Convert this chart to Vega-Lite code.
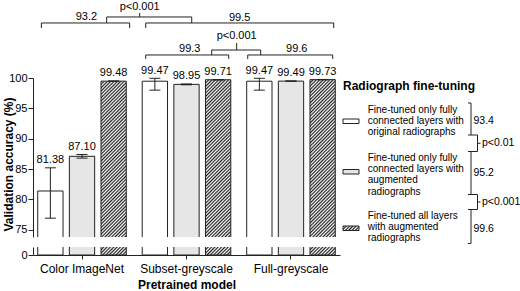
{
  "$schema": "https://vega.github.io/schema/vega-lite/v6.json",
  "background": "white",
  "padding": {"left": 2, "top": 0, "right": 0, "bottom": 0},
  "config": {
    "font": "Liberation Sans",
    "view": {"stroke": null},
    "axis": {"labelFont": "Liberation Sans", "titleFont": "Liberation Sans", "labelColor": "#000", "titleColor": "#000", "domainColor": "#222", "tickColor": "#222", "grid": false, "labelFontSize": 11, "titleFontSize": 12, "titleFontWeight": "bold", "labelOverlap": false},
    "text": {"font": "Liberation Sans", "color": "#000"}
  },
  "datasets": {
    "bars": [
      {"g": "Color ImageNet", "t": "orig", "v": 81.38, "lo": 76.9, "hi": 85.2},
      {"g": "Color ImageNet", "t": "aug", "v": 87.10, "lo": 86.8, "hi": 87.4},
      {"g": "Color ImageNet", "t": "all", "v": 99.48, "lo": 99.45, "hi": 99.52},
      {"g": "Subset-greyscale", "t": "orig", "v": 99.47, "lo": 98.0, "hi": 99.95},
      {"g": "Subset-greyscale", "t": "aug", "v": 98.95, "lo": 98.88, "hi": 99.02},
      {"g": "Subset-greyscale", "t": "all", "v": 99.71, "lo": 99.68, "hi": 99.74},
      {"g": "Full-greyscale", "t": "orig", "v": 99.47, "lo": 98.0, "hi": 99.95},
      {"g": "Full-greyscale", "t": "aug", "v": 99.49, "lo": 99.46, "hi": 99.52},
      {"g": "Full-greyscale", "t": "all", "v": 99.73, "lo": 99.70, "hi": 99.76}
    ],
    "brk": [
      {"x": -0.389, "x2": 0.456, "y": 109.08, "y2": 109.08},
      {"x": -0.389, "x2": -0.389, "y": 109.08, "y2": 108.25},
      {"x": 0.456, "x2": 0.456, "y": 109.08, "y2": 108.25},
      {"x": 0.610, "x2": 2.409, "y": 109.08, "y2": 109.08},
      {"x": 0.610, "x2": 0.610, "y": 109.08, "y2": 108.25},
      {"x": 2.409, "x2": 2.409, "y": 109.08, "y2": 108.25},
      {"x": 0.236, "x2": 1.050, "y": 110.07, "y2": 110.07},
      {"x": 0.236, "x2": 0.236, "y": 110.07, "y2": 109.08},
      {"x": 1.050, "x2": 1.050, "y": 110.07, "y2": 109.08},
      {"x": 0.552, "x2": 0.552, "y": 110.07, "y2": 110.73},
      {"x": 0.610, "x2": 1.404, "y": 103.80, "y2": 103.80},
      {"x": 0.610, "x2": 0.610, "y": 103.80, "y2": 103.14},
      {"x": 1.404, "x2": 1.404, "y": 103.80, "y2": 103.14},
      {"x": 1.586, "x2": 2.399, "y": 103.80, "y2": 103.80},
      {"x": 1.586, "x2": 1.586, "y": 103.80, "y2": 103.14},
      {"x": 2.399, "x2": 2.399, "y": 103.80, "y2": 103.14},
      {"x": 1.241, "x2": 1.710, "y": 104.62, "y2": 104.62},
      {"x": 1.241, "x2": 1.241, "y": 104.62, "y2": 103.80},
      {"x": 1.710, "x2": 1.710, "y": 104.62, "y2": 103.80},
      {"x": 1.480, "x2": 1.480, "y": 104.62, "y2": 105.78}
    ],
    "brkText": [
      {"x": 0.552, "y": 111.72, "s": "p<0.001"},
      {"x": 0.042, "y": 110.07, "s": "93.2"},
      {"x": 1.509, "y": 109.95, "s": "99.5"},
      {"x": 1.480, "y": 106.93, "s": "p<0.001"},
      {"x": 1.031, "y": 104.79, "s": "99.3"},
      {"x": 2.055, "y": 104.79, "s": "99.6"}
    ],
    "legRule": [
      {"x": 125, "x2": 128, "y": 101, "y2": 101},
      {"x": 128, "x2": 128, "y": 101, "y2": 133},
      {"x": 125, "x2": 134.5, "y": 133, "y2": 133},
      {"x": 134.5, "x2": 134.5, "y": 133, "y2": 149.5},
      {"x": 125, "x2": 134.5, "y": 149.5, "y2": 149.5},
      {"x": 134.5, "x2": 137.5, "y": 141.3, "y2": 141.3},
      {"x": 128, "x2": 128, "y": 149.5, "y2": 192.5},
      {"x": 125, "x2": 134.5, "y": 192.5, "y2": 192.5},
      {"x": 134.5, "x2": 134.5, "y": 192.5, "y2": 207.5},
      {"x": 125, "x2": 134.5, "y": 207.5, "y2": 207.5},
      {"x": 134.5, "x2": 137.5, "y": 200, "y2": 200},
      {"x": 128, "x2": 128, "y": 207.5, "y2": 241.5},
      {"x": 125, "x2": 128, "y": 241.5, "y2": 241.5}
    ],
    "legSw": [
      {"t": "orig", "x": 0, "x2": 16, "y": 117, "y2": 121.5},
      {"t": "aug", "x": 0, "x2": 16, "y": 167.5, "y2": 172},
      {"t": "all", "x": 0, "x2": 16, "y": 224, "y2": 228.5}
    ],
    "legTitle": [
      {"x": 0, "y": 84, "s": "Radiograph fine-tuning"}
    ],
    "legLab": [
      {"x": 24.7, "y": 107.7, "s": "Fine-tuned only fully"},
      {"x": 24.7, "y": 119.0, "s": "connected layers with"},
      {"x": 24.7, "y": 130.3, "s": "original radiographs"},
      {"x": 24.7, "y": 156.0, "s": "Fine-tuned only fully"},
      {"x": 24.7, "y": 167.2, "s": "connected layers with"},
      {"x": 24.7, "y": 178.4, "s": "augmented"},
      {"x": 24.7, "y": 189.6, "s": "radiographs"},
      {"x": 24.7, "y": 213.5, "s": "Fine-tuned all layers"},
      {"x": 24.7, "y": 224.8, "s": "with augmented"},
      {"x": 24.7, "y": 236.1, "s": "radiographs"}
    ],
    "legNum": [
      {"x": 130.5, "y": 119, "s": "93.4"},
      {"x": 130.5, "y": 171, "s": "95.2"},
      {"x": 130.5, "y": 226.5, "s": "99.6"},
      {"x": 139, "y": 141.3, "s": "p<0.01"},
      {"x": 139, "y": 200, "s": "p<0.001"}
    ]
  },
  "spacing": 2,
  "hconcat": [
    {
      "spacing": 10,
      "bounds": "flush",
      "vconcat": [
        {
          "width": 307,
          "height": 66,
          "layer": [
            {
              "data": {"name": "brk"},
              "mark": {"type": "rule", "stroke": "#222", "strokeWidth": 1},
              "encoding": {
                "x": {"field": "x", "type": "quantitative", "scale": {"domain": [-0.469, 2.469], "nice": false, "zero": false}, "axis": null},
                "x2": {"field": "x2"},
                "y": {"field": "y", "type": "quantitative", "scale": {"domain": [101.65, 112.54], "nice": false, "zero": false}, "axis": null},
                "y2": {"field": "y2"}
              }
            },
            {
              "data": {"name": "brkText"},
              "mark": {"type": "text", "fontSize": 11, "baseline": "middle", "align": "center"},
              "encoding": {
                "x": {"field": "x", "type": "quantitative", "scale": {"domain": [-0.469, 2.469], "nice": false, "zero": false}, "axis": null},
                "y": {"field": "y", "type": "quantitative", "scale": {"domain": [101.65, 112.54], "nice": false, "zero": false}, "axis": null},
                "text": {"field": "s"}
              }
            }
          ]
        },
        {
          "width": 307,
          "height": 159,
          "data": {"name": "bars"},
          "encoding": {
            "x": {"field": "g", "type": "nominal", "sort": ["Color ImageNet", "Subset-greyscale", "Full-greyscale"], "scale": {"paddingInner": 0.11, "paddingOuter": 0.024}, "axis": null},
            "xOffset": {"field": "t", "sort": ["orig", "aug", "all"], "scale": {"paddingInner": 0.2, "paddingOuter": 0.07}}
          },
          "layer": [
            {
              "mark": {"type": "bar", "clip": true, "stroke": "#222", "strokeWidth": 1},
              "encoding": {
                "y": {"field": "v", "type": "quantitative", "scale": {"domain": [73.8, 100], "nice": false, "zero": false},
                  "axis": {"title": "Validation accuracy (%)", "values": [75, 80, 85, 90, 95, 100], "tickCount": 20, "tickSize": 5, "labelPadding": 1, "labelOverlap": false, "titleX": -25, "titleY": 86, "titleBaseline": "middle", "titleAlign": "center", "titleAngle": -90}},
                "y2": {"datum": 0},
                "fill": {
                  "field": "t", "type": "nominal",
                  "scale": {"domain": ["orig", "aug", "all"], "range": ["#ffffff", "#e6e6e6", "#8c8c8c"]},
                  "legend": null,
                  "condition": {
                    "test": "datum.t === 'all'",
                    "value": {
                      "gradient": "linear", "x1": 0, "y1": 0, "x2": 0.013823, "y2": 0.33027,
                      "stops": [
                        {"offset": 0, "color": "#222"}, {"offset": 0.0083, "color": "#fff"}, {"offset": 0.0167, "color": "#222"}, {"offset": 0.025, "color": "#fff"}, {"offset": 0.0333, "color": "#222"}, {"offset": 0.0417, "color": "#fff"}, {"offset": 0.05, "color": "#222"}, {"offset": 0.0583, "color": "#fff"}, {"offset": 0.0667, "color": "#222"}, {"offset": 0.075, "color": "#fff"}, {"offset": 0.0833, "color": "#222"}, {"offset": 0.0917, "color": "#fff"},
                        {"offset": 0.1, "color": "#222"}, {"offset": 0.1083, "color": "#fff"}, {"offset": 0.1167, "color": "#222"}, {"offset": 0.125, "color": "#fff"}, {"offset": 0.1333, "color": "#222"}, {"offset": 0.1417, "color": "#fff"}, {"offset": 0.15, "color": "#222"}, {"offset": 0.1583, "color": "#fff"}, {"offset": 0.1667, "color": "#222"}, {"offset": 0.175, "color": "#fff"}, {"offset": 0.1833, "color": "#222"}, {"offset": 0.1917, "color": "#fff"},
                        {"offset": 0.2, "color": "#222"}, {"offset": 0.2083, "color": "#fff"}, {"offset": 0.2167, "color": "#222"}, {"offset": 0.225, "color": "#fff"}, {"offset": 0.2333, "color": "#222"}, {"offset": 0.2417, "color": "#fff"}, {"offset": 0.25, "color": "#222"}, {"offset": 0.2583, "color": "#fff"}, {"offset": 0.2667, "color": "#222"}, {"offset": 0.275, "color": "#fff"}, {"offset": 0.2833, "color": "#222"}, {"offset": 0.2917, "color": "#fff"},
                        {"offset": 0.3, "color": "#222"}, {"offset": 0.3083, "color": "#fff"}, {"offset": 0.3167, "color": "#222"}, {"offset": 0.325, "color": "#fff"}, {"offset": 0.3333, "color": "#222"}, {"offset": 0.3417, "color": "#fff"}, {"offset": 0.35, "color": "#222"}, {"offset": 0.3583, "color": "#fff"}, {"offset": 0.3667, "color": "#222"}, {"offset": 0.375, "color": "#fff"}, {"offset": 0.3833, "color": "#222"}, {"offset": 0.3917, "color": "#fff"},
                        {"offset": 0.4, "color": "#222"}, {"offset": 0.4083, "color": "#fff"}, {"offset": 0.4167, "color": "#222"}, {"offset": 0.425, "color": "#fff"}, {"offset": 0.4333, "color": "#222"}, {"offset": 0.4417, "color": "#fff"}, {"offset": 0.45, "color": "#222"}, {"offset": 0.4583, "color": "#fff"}, {"offset": 0.4667, "color": "#222"}, {"offset": 0.475, "color": "#fff"}, {"offset": 0.4833, "color": "#222"}, {"offset": 0.4917, "color": "#fff"},
                        {"offset": 0.5, "color": "#222"}, {"offset": 0.5083, "color": "#fff"}, {"offset": 0.5167, "color": "#222"}, {"offset": 0.525, "color": "#fff"}, {"offset": 0.5333, "color": "#222"}, {"offset": 0.5417, "color": "#fff"}, {"offset": 0.55, "color": "#222"}, {"offset": 0.5583, "color": "#fff"}, {"offset": 0.5667, "color": "#222"}, {"offset": 0.575, "color": "#fff"}, {"offset": 0.5833, "color": "#222"}, {"offset": 0.5917, "color": "#fff"},
                        {"offset": 0.6, "color": "#222"}, {"offset": 0.6083, "color": "#fff"}, {"offset": 0.6167, "color": "#222"}, {"offset": 0.625, "color": "#fff"}, {"offset": 0.6333, "color": "#222"}, {"offset": 0.6417, "color": "#fff"}, {"offset": 0.65, "color": "#222"}, {"offset": 0.6583, "color": "#fff"}, {"offset": 0.6667, "color": "#222"}, {"offset": 0.675, "color": "#fff"}, {"offset": 0.6833, "color": "#222"}, {"offset": 0.6917, "color": "#fff"},
                        {"offset": 0.7, "color": "#222"}, {"offset": 0.7083, "color": "#fff"}, {"offset": 0.7167, "color": "#222"}, {"offset": 0.725, "color": "#fff"}, {"offset": 0.7333, "color": "#222"}, {"offset": 0.7417, "color": "#fff"}, {"offset": 0.75, "color": "#222"}, {"offset": 0.7583, "color": "#fff"}, {"offset": 0.7667, "color": "#222"}, {"offset": 0.775, "color": "#fff"}, {"offset": 0.7833, "color": "#222"}, {"offset": 0.7917, "color": "#fff"},
                        {"offset": 0.8, "color": "#222"}, {"offset": 0.8083, "color": "#fff"}, {"offset": 0.8167, "color": "#222"}, {"offset": 0.825, "color": "#fff"}, {"offset": 0.8333, "color": "#222"}, {"offset": 0.8417, "color": "#fff"}, {"offset": 0.85, "color": "#222"}, {"offset": 0.8583, "color": "#fff"}, {"offset": 0.8667, "color": "#222"}, {"offset": 0.875, "color": "#fff"}, {"offset": 0.8833, "color": "#222"}, {"offset": 0.8917, "color": "#fff"},
                        {"offset": 0.9, "color": "#222"}, {"offset": 0.9083, "color": "#fff"}, {"offset": 0.9167, "color": "#222"}, {"offset": 0.925, "color": "#fff"}, {"offset": 0.9333, "color": "#222"}, {"offset": 0.9417, "color": "#fff"}, {"offset": 0.95, "color": "#222"}, {"offset": 0.9583, "color": "#fff"}, {"offset": 0.9667, "color": "#222"}, {"offset": 0.975, "color": "#fff"}, {"offset": 0.9833, "color": "#222"}, {"offset": 0.9917, "color": "#fff"},
                        {"offset": 1, "color": "#222"}
                      ]
                    }
                  }
                }
              }
            },
            {
              "mark": {"type": "rule", "stroke": "#222", "strokeWidth": 1},
              "encoding": {
                "y": {"field": "lo", "type": "quantitative"},
                "y2": {"field": "hi"}
              }
            },
            {
              "mark": {"type": "tick", "size": 11, "thickness": 1, "color": "#222", "opacity": 1},
              "encoding": {"y": {"field": "lo", "type": "quantitative"}}
            },
            {
              "mark": {"type": "tick", "size": 11, "thickness": 1, "color": "#222", "opacity": 1},
              "encoding": {"y": {"field": "hi", "type": "quantitative"}}
            },
            {
              "mark": {"type": "text", "fontSize": 11, "dy": -4.5, "baseline": "alphabetic", "align": "center"},
              "encoding": {
                "y": {"field": "hi", "type": "quantitative"},
                "text": {"field": "v", "type": "quantitative", "format": ".2f"}
              }
            }
          ]
        },
        {
          "width": 307,
          "height": 8,
          "data": {"name": "bars"},
          "mark": {"type": "bar", "clip": true, "stroke": "#222", "strokeWidth": 1},
          "encoding": {
            "x": {"field": "g", "type": "nominal", "sort": ["Color ImageNet", "Subset-greyscale", "Full-greyscale"], "scale": {"paddingInner": 0.11, "paddingOuter": 0.024},
              "axis": {"title": "Pretrained model", "labelAngle": 0, "tickSize": 4, "labelPadding": 4, "titlePadding": 5, "labelFontSize": 12, "titleFontSize": 12}},
            "xOffset": {"field": "t", "sort": ["orig", "aug", "all"], "scale": {"paddingInner": 0.2, "paddingOuter": 0.07}},
            "y": {"field": "v", "type": "quantitative", "scale": {"domain": [0, 9], "nice": false}, "axis": {"values": [0], "tickCount": 5, "title": null, "tickSize": 5, "labelPadding": 1}},
            "y2": {"datum": 0},
            "fill": {
              "field": "t", "type": "nominal",
              "scale": {"domain": ["orig", "aug", "all"], "range": ["#ffffff", "#e6e6e6", "#8c8c8c"]},
              "legend": null,
              "condition": {
                "test": "datum.t === 'all'",
                "value": {
                  "gradient": "linear", "x1": 0, "y1": 0, "x2": 0.5973, "y2": 2.089,
                  "stops": [
                    {"offset": 0, "color": "#222"}, {"offset": 0.0083, "color": "#fff"}, {"offset": 0.0167, "color": "#222"}, {"offset": 0.025, "color": "#fff"}, {"offset": 0.0333, "color": "#222"}, {"offset": 0.0417, "color": "#fff"}, {"offset": 0.05, "color": "#222"}, {"offset": 0.0583, "color": "#fff"}, {"offset": 0.0667, "color": "#222"}, {"offset": 0.075, "color": "#fff"}, {"offset": 0.0833, "color": "#222"}, {"offset": 0.0917, "color": "#fff"},
                    {"offset": 0.1, "color": "#222"}, {"offset": 0.1083, "color": "#fff"}, {"offset": 0.1167, "color": "#222"}, {"offset": 0.125, "color": "#fff"}, {"offset": 0.1333, "color": "#222"}, {"offset": 0.1417, "color": "#fff"}, {"offset": 0.15, "color": "#222"}, {"offset": 0.1583, "color": "#fff"}, {"offset": 0.1667, "color": "#222"}, {"offset": 0.175, "color": "#fff"}, {"offset": 0.1833, "color": "#222"}, {"offset": 0.1917, "color": "#fff"},
                    {"offset": 0.2, "color": "#222"}, {"offset": 0.2083, "color": "#fff"}, {"offset": 0.2167, "color": "#222"}, {"offset": 0.225, "color": "#fff"}, {"offset": 0.2333, "color": "#222"}, {"offset": 0.2417, "color": "#fff"}, {"offset": 0.25, "color": "#222"}, {"offset": 0.2583, "color": "#fff"}, {"offset": 0.2667, "color": "#222"}, {"offset": 0.275, "color": "#fff"}, {"offset": 0.2833, "color": "#222"}, {"offset": 0.2917, "color": "#fff"},
                    {"offset": 0.3, "color": "#222"}, {"offset": 0.3083, "color": "#fff"}, {"offset": 0.3167, "color": "#222"}, {"offset": 0.325, "color": "#fff"}, {"offset": 0.3333, "color": "#222"}, {"offset": 0.3417, "color": "#fff"}, {"offset": 0.35, "color": "#222"}, {"offset": 0.3583, "color": "#fff"}, {"offset": 0.3667, "color": "#222"}, {"offset": 0.375, "color": "#fff"}, {"offset": 0.3833, "color": "#222"}, {"offset": 0.3917, "color": "#fff"},
                    {"offset": 0.4, "color": "#222"}, {"offset": 0.4083, "color": "#fff"}, {"offset": 0.4167, "color": "#222"}, {"offset": 0.425, "color": "#fff"}, {"offset": 0.4333, "color": "#222"}, {"offset": 0.4417, "color": "#fff"}, {"offset": 0.45, "color": "#222"}, {"offset": 0.4583, "color": "#fff"}, {"offset": 0.4667, "color": "#222"}, {"offset": 0.475, "color": "#fff"}, {"offset": 0.4833, "color": "#222"}, {"offset": 0.4917, "color": "#fff"},
                    {"offset": 0.5, "color": "#222"}, {"offset": 0.5083, "color": "#fff"}, {"offset": 0.5167, "color": "#222"}, {"offset": 0.525, "color": "#fff"}, {"offset": 0.5333, "color": "#222"}, {"offset": 0.5417, "color": "#fff"}, {"offset": 0.55, "color": "#222"}, {"offset": 0.5583, "color": "#fff"}, {"offset": 0.5667, "color": "#222"}, {"offset": 0.575, "color": "#fff"}, {"offset": 0.5833, "color": "#222"}, {"offset": 0.5917, "color": "#fff"},
                    {"offset": 0.6, "color": "#222"}, {"offset": 0.6083, "color": "#fff"}, {"offset": 0.6167, "color": "#222"}, {"offset": 0.625, "color": "#fff"}, {"offset": 0.6333, "color": "#222"}, {"offset": 0.6417, "color": "#fff"}, {"offset": 0.65, "color": "#222"}, {"offset": 0.6583, "color": "#fff"}, {"offset": 0.6667, "color": "#222"}, {"offset": 0.675, "color": "#fff"}, {"offset": 0.6833, "color": "#222"}, {"offset": 0.6917, "color": "#fff"},
                    {"offset": 0.7, "color": "#222"}, {"offset": 0.7083, "color": "#fff"}, {"offset": 0.7167, "color": "#222"}, {"offset": 0.725, "color": "#fff"}, {"offset": 0.7333, "color": "#222"}, {"offset": 0.7417, "color": "#fff"}, {"offset": 0.75, "color": "#222"}, {"offset": 0.7583, "color": "#fff"}, {"offset": 0.7667, "color": "#222"}, {"offset": 0.775, "color": "#fff"}, {"offset": 0.7833, "color": "#222"}, {"offset": 0.7917, "color": "#fff"},
                    {"offset": 0.8, "color": "#222"}, {"offset": 0.8083, "color": "#fff"}, {"offset": 0.8167, "color": "#222"}, {"offset": 0.825, "color": "#fff"}, {"offset": 0.8333, "color": "#222"}, {"offset": 0.8417, "color": "#fff"}, {"offset": 0.85, "color": "#222"}, {"offset": 0.8583, "color": "#fff"}, {"offset": 0.8667, "color": "#222"}, {"offset": 0.875, "color": "#fff"}, {"offset": 0.8833, "color": "#222"}, {"offset": 0.8917, "color": "#fff"},
                    {"offset": 0.9, "color": "#222"}, {"offset": 0.9083, "color": "#fff"}, {"offset": 0.9167, "color": "#222"}, {"offset": 0.925, "color": "#fff"}, {"offset": 0.9333, "color": "#222"}, {"offset": 0.9417, "color": "#fff"}, {"offset": 0.95, "color": "#222"}, {"offset": 0.9583, "color": "#fff"}, {"offset": 0.9667, "color": "#222"}, {"offset": 0.975, "color": "#fff"}, {"offset": 0.9833, "color": "#222"}, {"offset": 0.9917, "color": "#fff"},
                    {"offset": 1, "color": "#222"}
                  ]
                }
              }
            }
          }
        }
      ]
    },
    {
      "width": 178,
      "height": 253,
      "layer": [
        {
          "data": {"name": "legRule"},
          "mark": {"type": "rule", "stroke": "#222", "strokeWidth": 1},
          "encoding": {
            "x": {"field": "x", "type": "quantitative", "scale": {"domain": [0, 178], "nice": false}, "axis": null},
            "x2": {"field": "x2"},
            "y": {"field": "y", "type": "quantitative", "scale": {"domain": [0, 253], "nice": false, "reverse": true}, "axis": null},
            "y2": {"field": "y2"}
          }
        },
        {
          "data": {"name": "legSw"},
          "mark": {"type": "rect", "stroke": "#222", "strokeWidth": 1},
          "encoding": {
            "x": {"field": "x", "type": "quantitative", "scale": {"domain": [0, 178], "nice": false}, "axis": null},
            "x2": {"field": "x2"},
            "y": {"field": "y", "type": "quantitative", "scale": {"domain": [0, 253], "nice": false, "reverse": true}, "axis": null},
            "y2": {"field": "y2"},
            "fill": {
              "field": "t", "type": "nominal",
              "scale": {"domain": ["orig", "aug", "all"], "range": ["#ffffff", "#e6e6e6", "#8c8c8c"]},
              "legend": null,
              "condition": {
                "test": "datum.t === 'all'",
                "value": {
                  "gradient": "linear", "x1": 0, "y1": 0, "x2": 11.58, "y2": 3.257,
                  "stops": [
                    {"offset": 0, "color": "#222"}, {"offset": 0.0083, "color": "#fff"}, {"offset": 0.0167, "color": "#222"}, {"offset": 0.025, "color": "#fff"}, {"offset": 0.0333, "color": "#222"}, {"offset": 0.0417, "color": "#fff"}, {"offset": 0.05, "color": "#222"}, {"offset": 0.0583, "color": "#fff"}, {"offset": 0.0667, "color": "#222"}, {"offset": 0.075, "color": "#fff"}, {"offset": 0.0833, "color": "#222"}, {"offset": 0.0917, "color": "#fff"},
                    {"offset": 0.1, "color": "#222"}, {"offset": 0.1083, "color": "#fff"}, {"offset": 0.1167, "color": "#222"}, {"offset": 0.125, "color": "#fff"}, {"offset": 0.1333, "color": "#222"}, {"offset": 0.1417, "color": "#fff"}, {"offset": 0.15, "color": "#222"}, {"offset": 0.1583, "color": "#fff"}, {"offset": 0.1667, "color": "#222"}, {"offset": 0.175, "color": "#fff"}, {"offset": 0.1833, "color": "#222"}, {"offset": 0.1917, "color": "#fff"},
                    {"offset": 0.2, "color": "#222"}, {"offset": 0.2083, "color": "#fff"}, {"offset": 0.2167, "color": "#222"}, {"offset": 0.225, "color": "#fff"}, {"offset": 0.2333, "color": "#222"}, {"offset": 0.2417, "color": "#fff"}, {"offset": 0.25, "color": "#222"}, {"offset": 0.2583, "color": "#fff"}, {"offset": 0.2667, "color": "#222"}, {"offset": 0.275, "color": "#fff"}, {"offset": 0.2833, "color": "#222"}, {"offset": 0.2917, "color": "#fff"},
                    {"offset": 0.3, "color": "#222"}, {"offset": 0.3083, "color": "#fff"}, {"offset": 0.3167, "color": "#222"}, {"offset": 0.325, "color": "#fff"}, {"offset": 0.3333, "color": "#222"}, {"offset": 0.3417, "color": "#fff"}, {"offset": 0.35, "color": "#222"}, {"offset": 0.3583, "color": "#fff"}, {"offset": 0.3667, "color": "#222"}, {"offset": 0.375, "color": "#fff"}, {"offset": 0.3833, "color": "#222"}, {"offset": 0.3917, "color": "#fff"},
                    {"offset": 0.4, "color": "#222"}
                  ]
                }
              }
            }
          }
        },
        {
          "data": {"name": "legTitle"},
          "mark": {"type": "text", "fontSize": 12, "fontWeight": "bold", "align": "left", "baseline": "middle"},
          "encoding": {
            "x": {"field": "x", "type": "quantitative", "scale": {"domain": [0, 178], "nice": false}, "axis": null},
            "y": {"field": "y", "type": "quantitative", "scale": {"domain": [0, 253], "nice": false, "reverse": true}, "axis": null},
            "text": {"field": "s"}
          }
        },
        {
          "data": {"name": "legLab"},
          "mark": {"type": "text", "fontSize": 10, "align": "left", "baseline": "middle"},
          "encoding": {
            "x": {"field": "x", "type": "quantitative", "scale": {"domain": [0, 178], "nice": false}, "axis": null},
            "y": {"field": "y", "type": "quantitative", "scale": {"domain": [0, 253], "nice": false, "reverse": true}, "axis": null},
            "text": {"field": "s"}
          }
        },
        {
          "data": {"name": "legNum"},
          "mark": {"type": "text", "fontSize": 10.5, "align": "left", "baseline": "middle"},
          "encoding": {
            "x": {"field": "x", "type": "quantitative", "scale": {"domain": [0, 178], "nice": false}, "axis": null},
            "y": {"field": "y", "type": "quantitative", "scale": {"domain": [0, 253], "nice": false, "reverse": true}, "axis": null},
            "text": {"field": "s"}
          }
        }
      ]
    }
  ]
}
